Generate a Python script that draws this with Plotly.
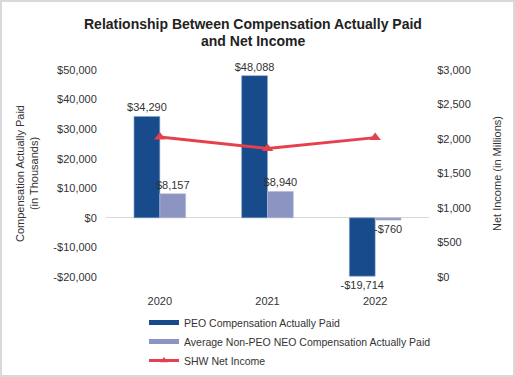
import plotly.graph_objects as go

years = ["2020", "2021", "2022"]
peo_cap = [34290, 48088, -19714]
neo_cap = [8157, 8940, -760]
net_income = [2030, 1864, 2020]

left_ticks = [-20000, -10000, 0, 10000, 20000, 30000, 40000, 50000]
right_ticks = [0, 500, 1000, 1500, 2000, 2500, 3000]

PEO_NAME = "PEO Compensation Actually Paid"
NEO_NAME = "Average Non-PEO NEO Compensation Actually Paid"
NI_NAME = "SHW Net Income"
C_PEO, C_NEO, C_NI = "#174b8b", "#8c94c2", "#e5404d"


def money(v):
    s = "${:,.0f}".format(abs(v))
    return "-" + s if v < 0 else s


W, H = 515, 377
L, R, T, B = 106, 86, 70, 100
pw, ph = W - L - R, H - T - B


def px_x(x):
    return (x - L) / pw


def px_y(y):
    return (T + ph - y) / ph


fig = go.Figure()
fig.add_trace(go.Bar(
    x=years, y=peo_cap, name=PEO_NAME, showlegend=False,
    marker=dict(color=C_PEO, line=dict(color="#8aa3cc", width=0.6)),
    text=[money(v) for v in peo_cap], textposition="outside", constraintext="none",
    textfont=dict(size=11, color="#333333"), cliponaxis=False,
))
fig.add_trace(go.Bar(
    x=years, y=neo_cap, name=NEO_NAME, showlegend=False,
    marker=dict(color=C_NEO, line=dict(color="#b7bddc", width=0.6)),
    text=[money(v) for v in neo_cap], textposition="outside", constraintext="none",
    textfont=dict(size=11, color="#333333"), cliponaxis=False,
))
fig.add_trace(go.Scatter(
    x=years, y=net_income, name=NI_NAME, yaxis="y2", showlegend=False,
    mode="lines+markers",
    line=dict(color=C_NI, width=3),
    marker=dict(symbol="triangle-up", size=10, color=C_NI),
))
# legend entries
fig.add_trace(go.Scatter(x=[None], y=[None], mode="lines", name=PEO_NAME,
                         line=dict(color=C_PEO, width=5)))
fig.add_trace(go.Scatter(x=[None], y=[None], mode="lines", name=NEO_NAME,
                         line=dict(color=C_NEO, width=5)))
fig.add_trace(go.Scatter(x=[None], y=[None], mode="lines+markers", name=NI_NAME,
                         line=dict(color=C_NI, width=3),
                         marker=dict(symbol="triangle-up", size=7, color=C_NI)))

fig.add_shape(type="rect", xref="paper", yref="paper",
              x0=px_x(1), x1=px_x(W - 1), y0=px_y(H - 1), y1=px_y(1),
              line=dict(color="#d9d9d9", width=2), layer="below")

annos = [
    dict(text="<b>Relationship Between Compensation Actually Paid</b>", x=px_x(253), y=px_y(24),
         font=dict(size=14, color="#222222")),
    dict(text="<b>and Net Income</b>", x=px_x(253), y=px_y(41),
         font=dict(size=14, color="#222222")),
    dict(text="Compensation Actually Paid<br>(in Thousands)", x=px_x(27), y=px_y(174),
         textangle=-90, font=dict(size=11, color="#333333")),
    dict(text="Net Income (in Millions)", x=px_x(497), y=px_y(174),
         textangle=-90, font=dict(size=11, color="#333333")),
]
for a in annos:
    a.update(xref="paper", yref="paper", xanchor="center", yanchor="middle", showarrow=False)

fig.update_layout(
    width=W, height=H,
    margin=dict(l=L, r=R, t=T, b=B, autoexpand=False),
    paper_bgcolor="white", plot_bgcolor="white",
    font=dict(family="Liberation Sans, Arial, sans-serif", size=11, color="#333333"),
    annotations=annos,
    barmode="group", bargap=0.52, bargroupgap=0,
    showlegend=True,
    legend=dict(orientation="v", x=px_x(144), xanchor="left", y=px_y(308), yanchor="top",
                font=dict(size=10.5, color="#333333"), tracegroupgap=0,
                itemwidth=30, bgcolor="rgba(0,0,0,0)"),
    xaxis=dict(showgrid=False, showline=False, ticks="outside", ticklen=14,
               tickcolor="rgba(0,0,0,0)", tickfont=dict(size=11), automargin=False),
    yaxis=dict(range=[-20000, 50000], tickvals=left_ticks,
               ticktext=[money(v) for v in left_ticks], automargin=False,
               ticks="outside", ticklen=6, tickcolor="rgba(0,0,0,0)",
               showgrid=False, zeroline=True, zerolinecolor="#d8d8d8", zerolinewidth=1),
    yaxis2=dict(range=[0, 3000], tickvals=right_ticks,
                ticktext=[money(v) for v in right_ticks], automargin=False,
                ticks="outside", ticklen=5, tickcolor="rgba(0,0,0,0)",
                overlaying="y", side="right", showgrid=False, zeroline=False),
)

fig.write_html(
    "out.html",
    config={"displayModeBar": False},
    post_script="document.body.style.margin='0';document.body.style.padding='0';",
)
